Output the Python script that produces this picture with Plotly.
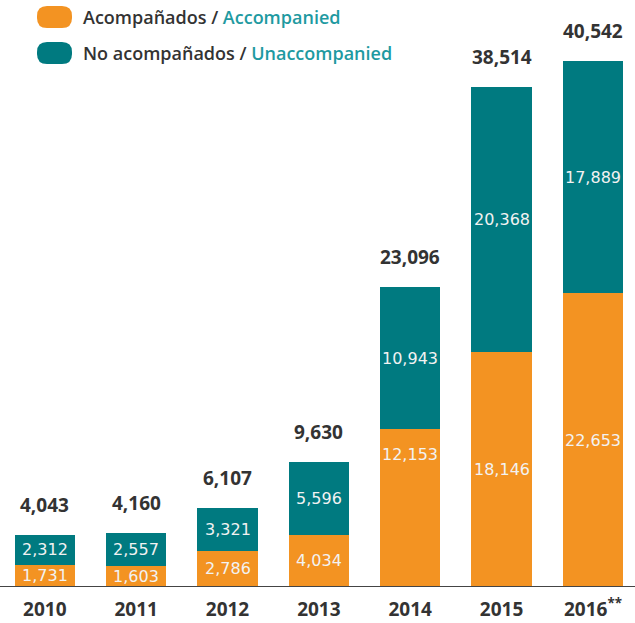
import plotly.graph_objects as go

years = ["2010", "2011", "2012", "2013", "2014", "2015", "2016"]
tick_labels = ["2010", "2011", "2012", "2013", "2014", "2015", "2016<sup>**</sup>"]
accompanied = [1731, 1603, 2786, 4034, 12153, 18146, 22653]
unaccompanied = [2312, 2557, 3321, 5596, 10943, 20368, 17889]
totals = [4043, 4160, 6107, 9630, 23096, 38514, 40542]

ORANGE = "#F39322"
TEAL = "#007A80"
TEAL_TXT = "#1E9AA1"
DARK = "#333333"

W, H = 635, 623
ML, MR, MT, MB = 0, 0, 0, 36
pw, ph = W - ML - MR, H - MT - MB

fig = go.Figure()
fig.add_trace(go.Bar(x=years, y=accompanied, marker=dict(color=ORANGE, line=dict(width=0)),
                     name="Acompañados / Accompanied", showlegend=False, hoverinfo="skip"))
fig.add_trace(go.Bar(x=years, y=unaccompanied, marker=dict(color=TEAL, line=dict(width=0)),
                     name="No acompañados / Unaccompanied", showlegend=False, hoverinfo="skip"))

annotations = []
# label vertical position within segment (fraction of segment height from its base)
acc_frac = {4: 0.84}
inner_font = dict(family="DejaVu Sans", size=16, color="#F2F2F2")
for i in range(len(years)):
    a, u, t = accompanied[i], unaccompanied[i], totals[i]
    fa = acc_frac.get(i, 0.5)
    annotations.append(dict(x=i, y=a * fa, text=f"{a:,}", showarrow=False, font=inner_font,
                            xref="x", yref="y", yanchor="middle"))
    annotations.append(dict(x=i, y=a + u * 0.5, text=f"{u:,}", showarrow=False, font=inner_font,
                            xref="x", yref="y", yanchor="middle"))
    annotations.append(dict(x=i, y=t, text=f"<b>{t:,}</b>", showarrow=False,
                            font=dict(family="Open Sans", size=19, color=DARK),
                            xref="x", yref="y", yanchor="bottom", yshift=15))

def px2paper(x, y):
    return (x - ML) / pw, 1 - (y - MT) / ph

def P(x, y):
    a, b = px2paper(x, y)
    return f"{a:.5f},{b:.5f}"

shapes = []
legend_items = [("Acompañados / ", "Accompanied", ORANGE), ("No acompañados / ", "Unaccompanied", TEAL)]
for k, (es, en, col) in enumerate(legend_items):
    yc = 17 + 36 * k
    x0, x1, y0, y1, r = 37, 72, yc - 11, yc + 11, 10
    path = (f"M {P(x0+r,y0)} L {P(x1-r,y0)} Q {P(x1,y0)} {P(x1,y0+r)} L {P(x1,y1-r)} Q {P(x1,y1)} {P(x1-r,y1)} "
            f"L {P(x0+r,y1)} Q {P(x0,y1)} {P(x0,y1-r)} L {P(x0,y0+r)} Q {P(x0,y0)} {P(x0+r,y0)} Z")
    shapes.append(dict(type="path", xref="paper", yref="paper", path=path, fillcolor=col,
                       line=dict(width=0)))
    lx, ly = px2paper(81, yc)
    annotations.append(dict(xref="paper", yref="paper", x=lx, y=ly, xanchor="left", yanchor="middle",
                            showarrow=False,
                            text=f"<span style='color:{DARK}'>{es}</span><span style='color:{TEAL_TXT}'>{en}</span>",
                            font=dict(family="Open Sans", size=18, weight=600, color=DARK)))

shapes.append(dict(type="line", xref="paper", yref="y", x0=0, x1=1, y0=0, y1=0,
                   line=dict(color="#444444", width=2)))

fig.update_layout(
    width=W, height=H, barmode="stack", bargap=0.34,
    margin=dict(l=ML, r=MR, t=MT, b=MB, autoexpand=False),
    plot_bgcolor="white", paper_bgcolor="white",
    xaxis=dict(type="category", range=[-0.49, 6.46], tickvals=years,
               ticktext=[f"<b>{t}</b>" for t in tick_labels],
               tickfont=dict(family="Open Sans", size=19, color=DARK), showgrid=False, zeroline=False,
               showline=False, ticks="", ticklabelstandoff=9, automargin=False),
    yaxis=dict(range=[0, 45250], visible=False, showgrid=False, zeroline=False),
    shapes=shapes, annotations=annotations,
)
fig.write_html("out.html", config={"displayModeBar": False},
               post_script="document.body.style.margin='0';")
